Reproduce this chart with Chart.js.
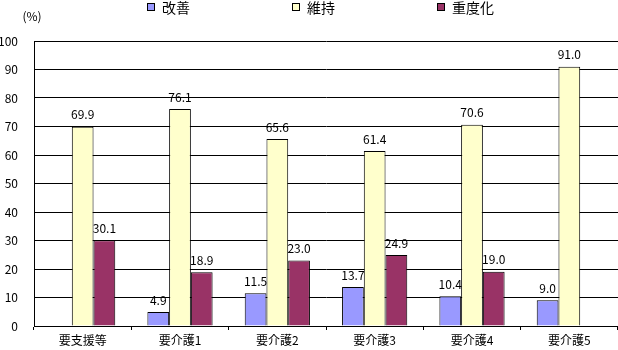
<!DOCTYPE html>
<html lang="ja">
<head>
<meta charset="utf-8">
<script src="https://cdn.jsdelivr.net/npm/chart.js@4.4.1/dist/chart.umd.min.js"></script>
<style>
  html, body { margin: 0; padding: 0; background: #fff; }
</style>
</head>
<body>
<canvas id="myChart" width="618" height="350"></canvas>
<script>
const categories = ['要支援等', '要介護1', '要介護2', '要介護3', '要介護4', '要介護5'];
const seriesNames = ['改善', '維持', '重度化'];
const improved = [null, 4.9, 11.5, 13.7, 10.4, 9.0];
const maintained = [69.9, 76.1, 65.6, 61.4, 70.6, 91.0];
const worsened = [30.1, 18.9, 23.0, 24.9, 19.0, null];
const seriesColors = ['#9999FF', '#FFFFCC', '#993366'];

Chart.defaults.font.family = "'Noto Sans CJK JP', sans-serif";
Chart.defaults.font.size = 12;
Chart.defaults.color = '#000';

// value printed above each bar
const valueLabels = {
  id: 'valueLabels',
  afterDatasetsDraw(chart) {
    const ctx = chart.ctx;
    ctx.save();
    ctx.font = "12px 'Noto Sans CJK JP', sans-serif";
    ctx.fillStyle = '#000';
    ctx.textAlign = 'center';
    ctx.textBaseline = 'middle';
    chart.data.datasets.forEach((ds, i) => {
      chart.getDatasetMeta(i).data.forEach((bar, j) => {
        const v = ds.data[j];
        if (v == null) return;
        ctx.fillText(v.toFixed(1), bar.x, bar.y - 12);
      });
    });
    ctx.restore();
  }
};

// legend row across the top and the unit mark over the y axis
const topDecor = {
  id: 'topDecor',
  afterDraw(chart) {
    const ctx = chart.ctx;
    ctx.save();
    ctx.fillStyle = '#000';
    ctx.font = "12px 'Noto Sans CJK JP', sans-serif";
    ctx.textAlign = 'center';
    ctx.textBaseline = 'middle';
    ctx.fillText('(%)', 32, 16);

    ctx.font = "14px 'Noto Sans CJK JP', sans-serif";
    ctx.textAlign = 'left';
    chart.data.datasets.forEach((ds, i) => {
      const x = 147 + i * 145;
      ctx.fillStyle = ds.backgroundColor;
      ctx.fillRect(x, 3, 8, 8);
      ctx.strokeStyle = '#000';
      ctx.lineWidth = 1;
      ctx.strokeRect(x + 0.5, 3.5, 7, 7);
      ctx.fillStyle = '#000';
      ctx.fillText(ds.label, x + 15, 8);
    });
    ctx.restore();
  }
};

function makeSet(i, data) {
  return {
    label: seriesNames[i],
    data: data,
    backgroundColor: seriesColors[i],
    borderColor: '#000',
    borderWidth: 1,
    categoryPercentage: 0.67,
    barPercentage: 1.0
  };
}

new Chart(document.getElementById('myChart'), {
  type: 'bar',
  data: {
    labels: categories,
    datasets: [makeSet(0, improved), makeSet(1, maintained), makeSet(2, worsened)]
  },
  options: {
    responsive: false,
    animation: false,
    layout: { padding: { top: 41, left: 0, right: 0, bottom: 0 } },
    plugins: {
      legend: { display: false },
      tooltip: { enabled: false }
    },
    scales: {
      x: {
        grid: { drawOnChartArea: false, color: '#000', tickLength: 4 },
        border: { color: '#000' },
        ticks: { padding: 3, maxRotation: 0 },
        afterFit: s => { s.height = 24; }
      },
      y: {
        min: 0,
        max: 100,
        ticks: { stepSize: 10, padding: 16 },
        grid: { color: '#000', drawTicks: false },
        border: { color: '#000' },
        afterFit: s => { s.width = 34; }
      }
    }
  },
  plugins: [valueLabels, topDecor]
});
</script>
</body>
</html>
